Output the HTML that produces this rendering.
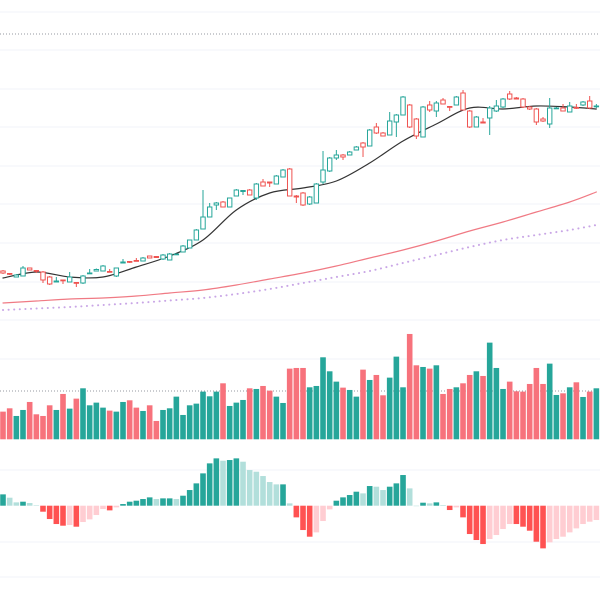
<!DOCTYPE html>
<html><head><meta charset="utf-8"><style>
html,body{margin:0;padding:0;background:#fff;}
svg{display:block;font-family:"Liberation Sans",sans-serif;}
</style></head><body>
<svg id="chart" width="600" height="600" viewBox="0 0 600 600">
<g id="grid"></g>
<g id="mas"></g>
<g id="candles"></g>
<g id="vol"></g>
<g id="macd"></g>
</svg>
<script>
const opens=[59,56.5,53,54,62,59.5,58,53,48,50,48,47.5,47,56.5,59,59,58.5,54,67,68.5,69.5,69,74,73.5,71,70,75.5,78,82,90,101,113,125,128,123,134,138.5,140,132,148,148,146,153,161,134,137,126,127,148,159,172,175,175,180,187,184,203,197,195,208,215,225,211,193,225,219,230,223.5,225,237,219,203,208,212,219,223,236,232,231,223,221,211,206,221.5,222,218,222.5,225,229,223.5];
const highs=[60,57,56,64,62,60,59,54,53,50,58,48,55,61,61.5,65,61,62,71,69,72,73,74,74,76,77,76.5,85,90,101,140,127,128,129,132,141,140,141,147,151,148.5,155,161,162,135,138,134,147,179,173,180,176,179,184,188,201,207,198,218,216,234,226,212,224,229,229,232,224,234,240,220,214,212,224,230,232,239,233,232,224,222,213,232,223,226,228,226,229,234,226];
const lows=[56,55,53,54,60,57,47,45,48,46,48,43,46,56.5,59,59,58,53,67,67,69,69,72,72,70,70,75,78,82,90,101,113,120,123,123,134,135,135,130,144,143,146,153,134,127,124,125,127,146,158,170,170,175,180,173,184,196,194,195,193,215,202,191,193,218,213,226,219,225,220,202,203,207,195,218,222,230,231,222,220,205,208,202,221,219,218,221,224,221,222];
const closes=[57,56,55,62,60,59,50,46,49,49.5,53,47,54,57,60.5,64,58,62,68,68,69,72,72,72.5,75,76,76,84,90,100,113,123,127,123,132,140,139.5,135,146,144,147,154,160,134,133,125,133,146,160,172,175,173,178,183,183,200,197,194,209,215,233,203,194,223,220,227,226,223,233,220,203,213,207,222,224,231,231,231,223,221,208,209,222,222,219,224,222,228,222,224];
const volumes=[83,93,70,88,112,75,70,102,88,136,92,122,153,102,110,95,86,83,112,117,95,85,102,55,88,93,128,73,102,107,143,129,143,168,100,110,118,153,151,160,146,128,109,212,214,214,156,160,246,204,173,155,148,128,209,178,193,132,185,248,156,316,222,217,212,222,136,151,156,168,193,204,190,290,214,151,173,144,143,166,214,166,227,133,138,156,171,127,143,153];
const macdHist=[34,24,10,12,8,1,-18,-40,-55,-60,-58,-63,-49,-41,-28,-10,-14,-5,5,12,15,20,25,20,22,22,20,30,47,67,97,127,142,135,137,142,132,107,102,89,71,64,64,7,-35,-73,-93,-80,-46,-11,15,25,32,42,37,59,57,47,57,67,92,52,0,9,7,10,2,-13,-5,-35,-85,-103,-115,-100,-88,-70,-55,-55,-63,-75,-108,-128,-110,-100,-93,-80,-68,-55,-48,-43];
const maIdx=[0,5,10,15,20,25,30,35,40,45,50,55,60,65,70,75,80,85,89];
const maFast=[52,58,53,53,63,74,90,120,137,142,149,167,189,206,222,221,224,223,221];
const maSlow=[27,29,31,32,34,37,40,45,51,57,64,72,80,89,99,108,118,128,138];
const maLong=[20,21.5,23,25,27,29.5,32,36,41,47,53,59,67,75,83,90,95,100,105];

const NS="http://www.w3.org/2000/svg";
const step=6.667;
const xOf=i=>3+i*step;
const yP=p=>330-p;
const yV=v=>439.3-v/3;
const yM=v=>505.7-v/3;
function mk(tag,attrs,parent){const e=document.createElementNS(NS,tag);for(const k in attrs)e.setAttribute(k,attrs[k]);parent.appendChild(e);return e;}

const grid=document.getElementById('grid');
[12,50,89,127,166,204,243,282,320,359,470,542,577].forEach(y=>{
  const l=mk('line',{x1:0,x2:600,y1:y,y2:y,stroke:'#f0f3fa','stroke-width':1},grid);
  
  
});
[34,391].forEach(y=>{
  const l=mk('line',{x1:0,x2:600,y1:y,y2:y,stroke:'#9598a1','stroke-width':1,'stroke-dasharray':'1 2'},grid);
  
  
});

const mas=document.getElementById('mas');
function smoothPath(pts){
  let d='M'+pts[0][0]+','+pts[0][1];
  for(let k=0;k<pts.length-1;k++){
    const p0=pts[Math.max(k-1,0)],p1=pts[k],p2=pts[k+1],p3=pts[Math.min(k+2,pts.length-1)];
    const c1x=p1[0]+(p2[0]-p0[0])/6,c1y=p1[1]+(p2[1]-p0[1])/6;
    const c2x=p2[0]-(p3[0]-p1[0])/6,c2y=p2[1]-(p3[1]-p1[1])/6;
    d+=' C'+c1x+','+c1y+' '+c2x+','+c2y+' '+p2[0]+','+p2[1];
  }
  return d;
}
function maLine(arr,color,dash,w,name){
  const pts=maIdx.map((i,k)=>[xOf(i),yP(arr[k])]);
  const pl=mk('path',{d:smoothPath(pts),fill:'none',stroke:color,'stroke-width':w,'stroke-linejoin':'round','stroke-linecap':'round'},mas);
  if(dash)pl.setAttribute('stroke-dasharray',dash);
  
  
}
maLine(maLong,'#c9a6e6','0.1 5.5',2,'ma-long-line');
maLine(maSlow,'#f07a84',null,1.2,'ma-slow-line');
maLine(maFast,'#333',null,1.2,'ma-fast-line');

const cg=document.getElementById('candles');
opens.forEach((o,i)=>{
  const c=closes[i],up=c>=o,col=up?'#26a69a':'#ef5350';
  const x=xOf(i);
  const g=mk('g',{},cg);
  
  
  const top=yP(Math.max(o,c)),bot=yP(Math.min(o,c));
  mk('line',{x1:x,x2:x,y1:yP(highs[i]),y2:top,stroke:col,'stroke-width':1},g);
  mk('line',{x1:x,x2:x,y1:bot,y2:yP(lows[i]),stroke:col,'stroke-width':1},g);
  mk('rect',{x:x-2.2,y:top,width:4.4,height:Math.max(bot-top,0.8),fill:'#fff',stroke:col,'stroke-width':1},g);
});

const vg=document.getElementById('vol');
volumes.forEach((v,i)=>{
  const up=closes[i]>=opens[i];
  const r=mk('rect',{x:xOf(i)-2.8,y:yV(v),width:5.6,height:439.3-yV(v),fill:up?'#26a69a':'#f7727c'},vg);
  
  
});

const mg=document.getElementById('macd');
macdHist.forEach((v,i)=>{
  const prev=i>0?macdHist[i-1]:v;
  let col;
  if(v>=0)col=v>=prev?'#26a69a':'#b2dfdb';
  else col=v<=prev?'#ff5252':'#ffcdd2';
  const y0=yM(0),y1=yM(v);
  const r=mk('rect',{x:xOf(i)-2.8,y:Math.min(y0,y1),width:5.6,height:Math.max(Math.abs(y1-y0),0.5),fill:col},mg);
  
  
});
</script>
</body></html>
